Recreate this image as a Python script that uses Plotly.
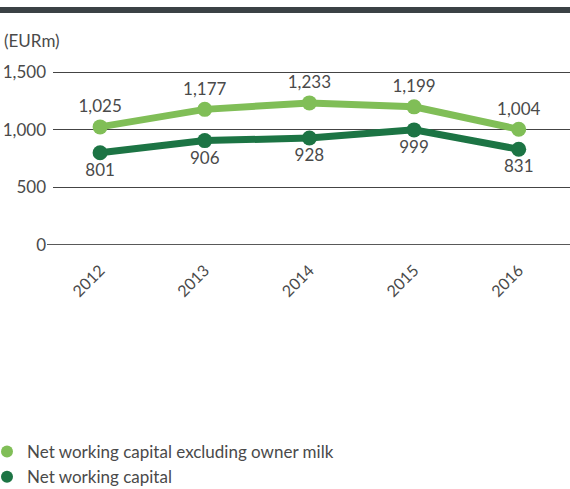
import plotly.graph_objects as go

years = ["2012", "2013", "2014", "2015", "2016"]
nwc_excl = [1025, 1177, 1233, 1199, 1004]
nwc = [801, 906, 928, 999, 831]
labels_excl = ["1,025", "1,177", "1,233", "1,199", "1,004"]
labels_nwc = ["801", "906", "928", "999", "831"]
ytick_vals = [0, 500, 1000, 1500]
ytick_text = ["0", "500", "1,000", "1,500"]

LIGHT = "#80be57"
DARK = "#1c7444"
FONT = "Lato"
TXT = "#4a4a4a"

PW, PH = 517, 174  # plot area size in px
PLOT_TOP = 71

def py(pix):
    return (PLOT_TOP + PH - pix) / PH

def px(pix):
    return (pix - 53) / PW

fig = go.Figure()
fig.add_trace(go.Scatter(
    x=years, y=nwc_excl, mode="lines+markers+text", text=labels_excl,
    textposition="top center", textfont=dict(size=17, color=TXT, family=FONT),
    line=dict(color=LIGHT, width=7), marker=dict(color=LIGHT, size=15),
    showlegend=False, cliponaxis=False))
fig.add_trace(go.Scatter(
    x=years, y=nwc, mode="lines+markers+text", text=labels_nwc,
    textposition="bottom center", textfont=dict(size=17, color=TXT, family=FONT),
    line=dict(color=DARK, width=7), marker=dict(color=DARK, size=15),
    showlegend=False, cliponaxis=False))
fig.add_trace(go.Scatter(x=[None], y=[None], mode="markers",
    marker=dict(color=LIGHT, size=13),
    name="Net working capital excluding owner milk"))
fig.add_trace(go.Scatter(x=[None], y=[None], mode="markers",
    marker=dict(color=DARK, size=13), name="Net working capital"))

fig.update_layout(
    width=570, height=489,
    margin=dict(l=53, r=0, t=PLOT_TOP, b=489 - PLOT_TOP - PH, autoexpand=False),
    plot_bgcolor="white", paper_bgcolor="white",
    font=dict(family=FONT, color=TXT, size=16),
    xaxis=dict(type="category", range=[-0.45, 4.49], showgrid=False,
               showline=False, zeroline=False, tickangle=-45,
               tickfont=dict(size=16, color=TXT), ticks="", ticklen=0,
               ticklabelstandoff=12, automargin=False),
    yaxis=dict(range=[0, 1510], tickvals=ytick_vals, ticktext=ytick_text,
               showgrid=True, gridcolor="#444444", gridwidth=1,
               zeroline=False, showline=False, ticks="", automargin=False,
               ticklabelstandoff=6, tickfont=dict(size=17, color=TXT)),
    legend=dict(xref="paper", yref="paper", x=px(-13), y=py(434),
                xanchor="left", yanchor="top", font=dict(size=17, color=TXT),
                tracegroupgap=0, itemsizing="constant"),
    shapes=[
        dict(type="rect", xref="paper", yref="paper", x0=px(0), x1=1,
             y0=py(13), y1=py(7), fillcolor="#3b4145", line=dict(width=0)),
        dict(type="line", xref="paper", yref="y", x0=px(47), x1=1, y0=0, y1=0,
             line=dict(color="#222222", width=1.5)),
    ],
    annotations=[
        dict(text="(EURm)", xref="paper", yref="paper", x=px(2),
             y=py(40), xanchor="left", yanchor="middle", showarrow=False,
             font=dict(size=17, color=TXT)),
    ],
)

fig.write_html("out.html")
